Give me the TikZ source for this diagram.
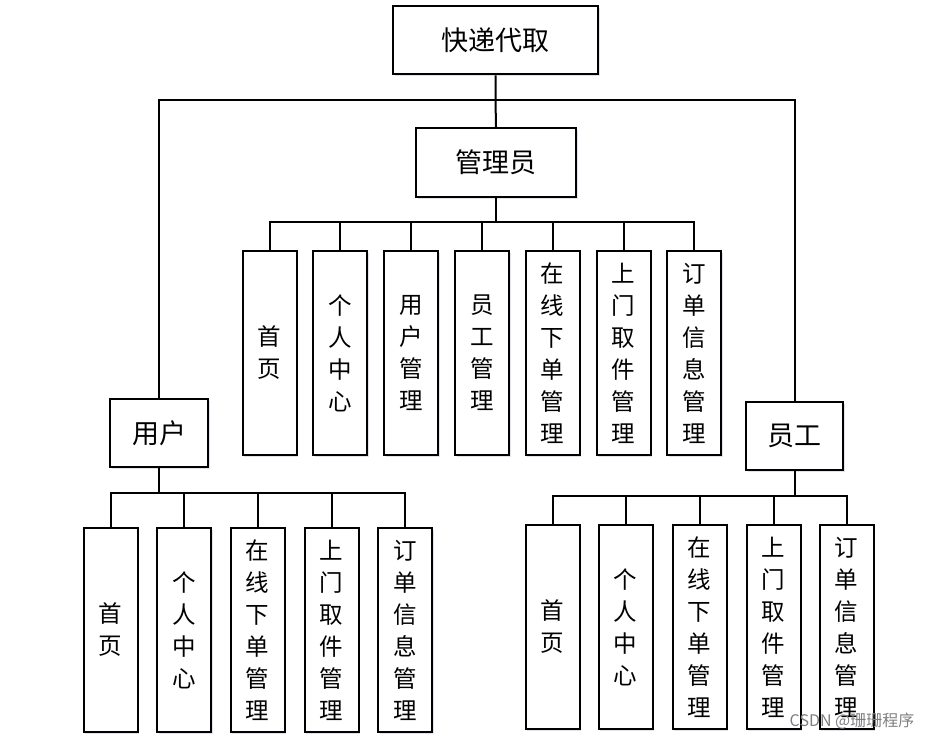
\documentclass[tikz,border=0pt]{standalone}
\usepackage{fontspec}
\setmainfont{Noto Sans CJK SC}
\usetikzlibrary{shadows}
\begin{document}
\begin{tikzpicture}[x=1pt,y=-1pt,
  box/.style={draw=black, line width=2pt, fill=white, inner sep=0pt, align=center,
    font=\fontsize{27}{32}\selectfont,
    drop shadow={shadow xshift=1.5pt, shadow yshift=-1.5pt, opacity=0.18, fill=blue!25!gray}},
  top/.style={box, minimum width=#1, minimum height=68pt},
  leaf/.style={box, minimum width=54pt, minimum height=204pt, font=\fontsize{23.5}{32}\selectfont},
  link/.style={line width=2pt}]
\useasboundingbox (0,0) rectangle (936,741);
% level 0 and 1
\node[top=205pt] (root) at (495.5,40.5) {快递代取};
\node[top=160pt, minimum height=69pt] (admin) at (496,162.5) {管理员};
\node[top=98pt] (user) at (159,433) {用户};
\node[top=97pt] (staff) at (794.5,436) {员工};
\coordinate (j0) at (495.5,100);
\draw[link] (root.south) -- (j0) -- (admin.north);
\draw[link] (j0) -| (user.north);
\draw[link] (j0) -| (staff.north);
% admin children
\node[leaf] (a1) at (269.5,353) {首\\页};
\node[leaf] (a2) at (340,353) {个\\人\\中\\心};
\node[leaf] (a3) at (411,353) {用\\户\\管\\理};
\node[leaf] (a4) at (482,353) {员\\工\\管\\理};
\node[leaf] (a5) at (552.5,353) {在\\线\\下\\单\\管\\理};
\node[leaf] (a6) at (623.5,353) {上\\门\\取\\件\\管\\理};
\node[leaf] (a7) at (694,353) {订\\单\\信\\息\\管\\理};
\coordinate (ja) at (496,222);
\draw[link] (admin.south) -- (ja);
\foreach \c in {a1,a2,a3,a4,a5,a6,a7} \draw[link] (ja) -| (\c.north);
% user children
\node[leaf] (u1) at (110.5,630) {首\\页};
\node[leaf] (u2) at (184,630) {个\\人\\中\\心};
\node[leaf] (u3) at (257.5,630) {在\\线\\下\\单\\管\\理};
\node[leaf] (u4) at (331.5,630) {上\\门\\取\\件\\管\\理};
\node[leaf] (u5) at (405,630) {订\\单\\信\\息\\管\\理};
\coordinate (ju) at (159,493);
\draw[link] (user.south) -- (ju);
\foreach \c in {u1,u2,u3,u4,u5} \draw[link] (ju) -| (\c.north);
% staff children
\node[leaf] (s1) at (552.5,627) {首\\页};
\node[leaf] (s2) at (625.5,627) {个\\人\\中\\心};
\node[leaf] (s3) at (699.5,627) {在\\线\\下\\单\\管\\理};
\node[leaf] (s4) at (773.5,627) {上\\门\\取\\件\\管\\理};
\node[leaf] (s5) at (846.5,627) {订\\单\\信\\息\\管\\理};
\coordinate (js) at (794.5,496);
\draw[link] (staff.south) -- (js);
\foreach \c in {s1,s2,s3,s4,s5} \draw[link] (js) -| (\c.north);
% watermark
\node[font=\fontsize{16}{18}\selectfont, text=gray, inner sep=0pt] (wm) at (852,721) {CSDN @珊珊程序};
\end{tikzpicture}
\end{document}
